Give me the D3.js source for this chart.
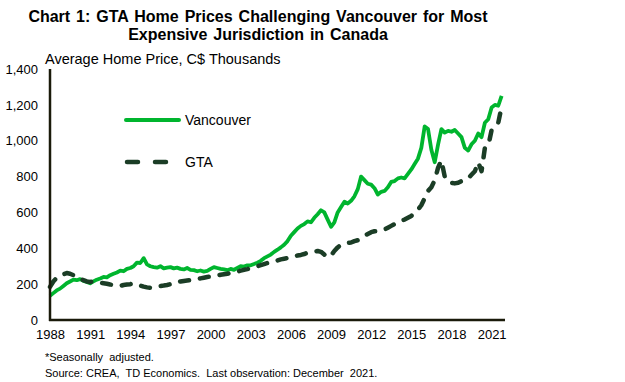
<!DOCTYPE html>
<html><head><meta charset="utf-8">
<script src="https://cdn.jsdelivr.net/npm/d3@7"></script>
<style>body{margin:0;background:#fff}svg{display:block}text{font-family:Arial,"Liberation Sans",sans-serif}</style>
</head><body>
<script>
// Quarterly observations, Q1 1988 .. Q4 2021 (C$ thousands)
const startYear = 1988;
const vancouver = [
 135,150,165,175, 190,205,215,225, 222,228,218,212, 205,215,225,232,
 240,238,250,258, 265,275,272,285, 290,300,320,318, 345,310,300,295,
 292,300,288,292, 295,288,292,285, 282,290,280,278, 272,276,270,274,
 285,295,290,285, 282,278,285,280, 290,300,298,305, 305,312,320,330,
 345,355,365,380, 392,405,420,440, 470,490,510,525, 535,550,545,570,
 590,612,600,560, 520,545,600,630, 660,650,665,690, 730,800,780,760,
 755,735,700,715, 720,740,770,775, 790,795,790,815, 840,870,900,960,
 1080,1065,950,880, 980,1065,1045,1055, 1050,1060,1040,1020, 960,945,980,1000,
 1040,1020,1100,1120, 1185,1200,1195,1250
];
const gta = [
 185,215,235,245, 255,262,258,250, 245,230,222,215, 212,215,210,208,
 205,202,198,195, 192,190,195,198, 200,205,198,192, 186,182,180,185,
 188,190,192,195, 200,208,212,215, 218,220,222,225, 228,232,236,240,
 242,245,248,252, 255,258,262,266, 270,275,280,284, 290,295,300,306,
 312,318,322,328, 332,338,342,345, 350,355,360,363, 368,375,378,382,
 385,380,365,350, 360,385,405,420, 425,430,432,440, 445,455,470,480,
 490,495,495,500, 505,515,525,535, 545,555,560,570, 580,600,615,640,
 680,720,740,780, 850,890,800,770, 765,762,765,775, 780,790,810,830,
 880,830,960,970, 1060,1080,1100,1190
];
const xTickLabels = ["1988","1991","1994","1997","2000","2003","2006","2009","2012","2015","2018","2021"];
const yTicks = [0,200,400,600,800,1000,1200,1400];
const seriesNames = ["Vancouver","GTA"];

const W=625,H=382;
const svg=d3.select("body").append("svg").attr("width",W).attr("height",H);
const dates = vancouver.map((_,i)=>new Date(startYear, i*3, 1));
const x=d3.scaleTime().domain([new Date(1988,0,1), new Date(2022,0,1)]).range([50,505]);
const y=d3.scaleLinear().domain([0,1400]).range([320,69]);

// title
const title=svg.append("text").attr("text-anchor","middle").attr("font-weight","bold").attr("font-size",16).attr("word-spacing",1.5).attr("fill","#000");
title.append("tspan").attr("x",258).attr("y",22).text("Chart 1: GTA Home Prices Challenging Vancouver for Most");
title.append("tspan").attr("x",258).attr("y",40).text("Expensive Jurisdiction in Canada");

svg.append("text").attr("x",45).attr("y",64).attr("font-size",14.5).attr("fill","#000").text("Average Home Price, C$ Thousands");

// y axis labels
const yAxis=d3.axisLeft(y).tickValues(yTicks).tickFormat(d3.format(",")).tickSize(0).tickPadding(12);
const gy=svg.append("g").attr("transform","translate(50,0)").call(yAxis);
gy.select(".domain").remove();
gy.selectAll("text").attr("font-size",13).attr("fill","#000").attr("font-family","Arial, 'Liberation Sans', sans-serif");

// x axis labels
const xAxis=d3.axisBottom(x).tickValues(xTickLabels.map(s=>new Date(+s,0,1))).tickFormat((d,i)=>xTickLabels[i]).tickSize(0).tickPadding(10);
const gx=svg.append("g").attr("transform","translate(0,320)").call(xAxis);
gx.select(".domain").remove();
gx.selectAll("text").attr("font-size",13).attr("fill","#000").attr("font-family","Arial, 'Liberation Sans', sans-serif");

const line=d3.line().x((d,i)=>x(dates[i])).y(d=>y(d)).curve(d3.curveLinear);
const green="#00b52e", dark="#1b3d26";
svg.append("path").datum(vancouver).attr("d",line).attr("fill","none").attr("stroke",green).attr("stroke-width",3.8).attr("stroke-linejoin","round");
svg.append("path").datum(gta).attr("d",line).attr("fill","none").attr("stroke",dark).attr("stroke-width",4.5).attr("stroke-dasharray","9,11").attr("stroke-linecap","round").attr("stroke-linejoin","round");

// axes lines
svg.append("line").attr("x1",50).attr("x2",50).attr("y1",69).attr("y2",321).attr("stroke","#1a1a0a").attr("stroke-width",2.5);
svg.append("line").attr("x1",49).attr("x2",505).attr("y1",320).attr("y2",320).attr("stroke","#1a1a0a").attr("stroke-width",2.5);

// legend
svg.append("line").attr("x1",126).attr("x2",179).attr("y1",120).attr("y2",120).attr("stroke",green).attr("stroke-width",4).attr("stroke-linecap","round");
svg.append("text").attr("x",185).attr("y",125).attr("font-size",14).text(seriesNames[0]);
svg.append("line").attr("x1",127).attr("x2",166).attr("y1",162).attr("y2",162).attr("stroke",dark).attr("stroke-width",4.5).attr("stroke-dasharray","11,17").attr("stroke-linecap","round");
svg.append("text").attr("x",185).attr("y",167).attr("font-size",14).text(seriesNames[1]);

// footnotes
svg.append("text").attr("x",45).attr("y",361).attr("font-size",11).text("*Seasonally  adjusted.").style("white-space","pre");
svg.append("text").attr("x",45).attr("y",377).attr("font-size",11).text("Source: CREA,  TD Economics.  Last observation: December  2021.").style("white-space","pre");
</script>
</body></html>
